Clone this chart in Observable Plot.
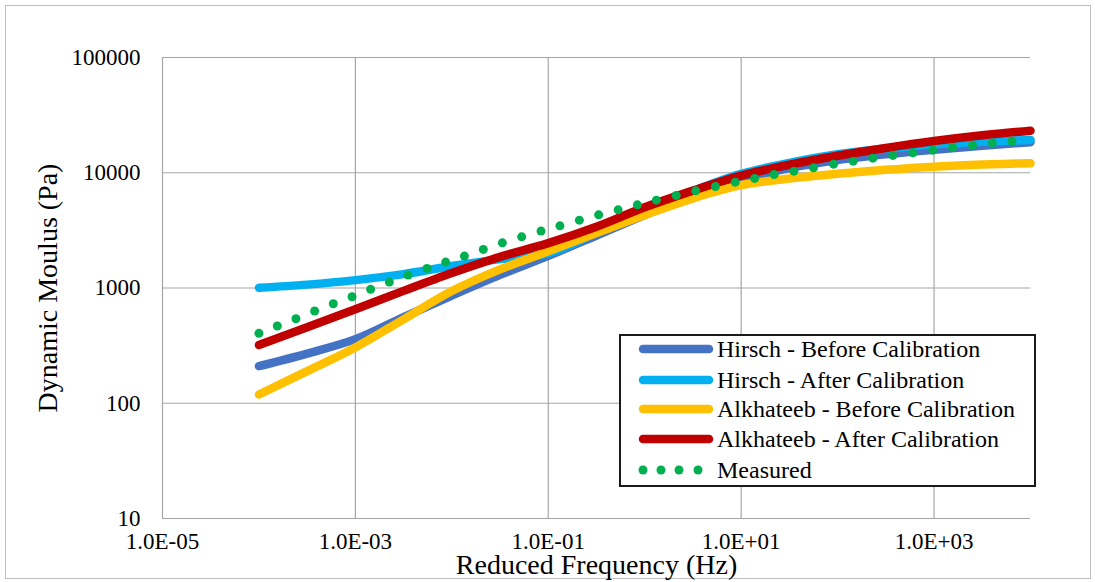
<!DOCTYPE html>
<html><head><meta charset="utf-8">
<script src="https://cdn.jsdelivr.net/npm/d3@7"></script>
<script src="https://cdn.jsdelivr.net/npm/@observablehq/plot@0.6"></script>
<style>
html,body{margin:0;padding:0;background:#fff;}
#wrap{position:relative;width:1095px;height:582px;font-family:"Liberation Serif","Times New Roman",serif;}
#frame{position:absolute;left:5px;top:5px;width:1084px;height:572px;border:1px solid #bfbfbf;pointer-events:none;}
#legend{position:absolute;left:619px;top:334px;width:413px;height:149px;border:2px solid #1a1a1a;background:#fff;}
.row{position:absolute;left:0;height:30px;display:flex;align-items:center;font-size:24px;color:#000;white-space:nowrap;font-family:"Liberation Serif","Times New Roman",serif;}
.row svg{display:block;}
</style></head><body><div id="wrap"><div id="frame"></div></div>
<script>
// ---- data ----
const seriesNames = ["Hirsch - Before Calibration","Hirsch - After Calibration","Alkhateeb - Before Calibration","Alkhateeb - After Calibration","Measured"];
const seriesColors = ["#4472C4","#00B0F0","#FFC000","#C00000","#00B050"];

const lineFreq = [1e-4, 3.16e-4, 1e-3, 3.16e-3, 1e-2, 3.16e-2, 1e-1, 0.316, 1, 3.16, 10, 31.6, 100, 316, 1000, 3162, 10000];
const hirschBefore = [210, 270, 360, 560, 860, 1300, 1900, 2850, 4300, 6300, 8710, 10960, 12880, 14450, 15850, 17180, 18400];
const hirschAfter = [1004, 1070, 1170, 1320, 1550, 1780, 2000, 3020, 4570, 6920, 9770, 12160, 14450, 16220, 17580, 18540, 19280];
const alkBefore = [119, 190, 305, 535, 940, 1450, 2080, 3000, 4300, 6000, 7800, 8900, 9800, 10600, 11300, 11800, 12100];
const alkAfter = [320, 457, 653, 944, 1349, 1862, 2450, 3400, 5012, 6998, 9441, 11749, 14060, 16406, 18836, 21135, 23174];

const measFreq = [1.0e-4, 1.55e-4, 2.42e-4, 3.78e-4, 5.90e-4, 9.23e-4, 1.44e-3, 2.25e-3, 3.52e-3, 5.53e-3,
  8.63e-3, 1.35e-2, 2.12e-2, 3.34e-2, 5.30e-2, 8.41e-2, 0.132, 0.210, 0.333, 0.530,
  0.839, 1.32, 2.12, 3.38, 5.41, 8.67, 13.8, 22.0, 35.2, 56.2,
  90.8, 145, 232, 374, 603, 973, 1556, 2506, 4018, 6412];
const measured = [404, 468, 541, 631, 730, 839, 973, 1125, 1294, 1479,
  1678, 1892, 2163, 2466, 2780, 3118, 3462, 3880, 4315, 4767,
  5270, 5783, 6353, 6966, 7603, 8285, 8925, 9664, 10319, 11031,
  11880, 12613, 13393, 14133, 14893, 15710, 16570, 17340, 18160, 18780];

const xTicks = [1e-5, 1e-3, 1e-1, 1e1, 1e3];
const xTickLabels = ["1.0E-05","1.0E-03","1.0E-01","1.0E+01","1.0E+03"];
const yTicks = [10, 100, 1000, 10000, 100000];
const yTickLabels = ["10","100","1000","10000","100000"];
const xTitle = "Reduced Frequency (Hz)";
const yTitle = "Dynamic Moulus (Pa)";

// ---- build rows ----
const lineSeries = [hirschBefore, hirschAfter, alkBefore, alkAfter];
const lineData = lineSeries.map((vals, k) => lineFreq.map((f, i) => ({f, v: vals[i], s: seriesNames[k]})));
const measData = measFreq.map((f, i) => ({f, v: measured[i]}));

const gridColor = "#a6a6a6";
const chart = Plot.plot({
  width: 1095, height: 582,
  marginLeft: 162, marginRight: 65, marginTop: 57, marginBottom: 64,
  style: {fontFamily: "'Liberation Serif','Times New Roman',serif", fontSize: "23px", background: "transparent", overflow: "visible", color: "#000"},
  x: {type: "log", domain: [1e-5, 1e4]},
  y: {type: "log", domain: [10, 1e5]},
  marks: [
    Plot.gridX(xTicks, {stroke: gridColor, strokeOpacity: 1, strokeWidth: 1.2}),
    Plot.gridY(yTicks, {stroke: gridColor, strokeOpacity: 1, strokeWidth: 1.2}),
    ...lineData.map((d, k) => Plot.line(d, {x: "f", y: "v", stroke: seriesColors[k], strokeWidth: 8.5, curve: "catmull-rom", strokeLinecap: "round", strokeLinejoin: "round"})),
    Plot.dot(measData, {x: "f", y: "v", r: 4.5, fill: seriesColors[4], stroke: "none"}),
    Plot.axisX(xTicks, {tickSize: 0, tickPadding: 14, tickFormat: (d) => xTickLabels[xTicks.indexOf(d)], fontSize: 23, label: null}),
    Plot.axisY(yTicks, {tickSize: 0, tickPadding: 22, tickFormat: (d) => yTickLabels[yTicks.indexOf(d)], fontSize: 23, label: null}),
    Plot.text([xTitle], {text: d => d, frameAnchor: "bottom", dy: 55, fontSize: 28, textAnchor: "middle"}),
    Plot.text([yTitle], {text: d => d, frameAnchor: "left", dx: -114, rotate: -90, fontSize: 28, textAnchor: "middle"})
  ]
});
const wrap = document.getElementById("wrap");
chart.style.position = "absolute";
chart.style.left = "0px";
chart.style.top = "0px";
wrap.appendChild(chart);

// ---- legend ----
const legend = document.createElement("div");
legend.id = "legend";
const rowCenters = [13, 44, 73, 103, 134];
seriesNames.forEach((name, k) => {
  const row = document.createElement("div");
  row.className = "row";
  row.style.top = (rowCenters[k] - 15) + "px";
  const ns = "http://www.w3.org/2000/svg";
  const sw = document.createElementNS(ns, "svg");
  sw.setAttribute("width", 96); sw.setAttribute("height", 30);
  if (k < 4) {
    const l = document.createElementNS(ns, "line");
    l.setAttribute("x1", 22); l.setAttribute("x2", 88); l.setAttribute("y1", 15); l.setAttribute("y2", 15);
    l.setAttribute("stroke", seriesColors[k]); l.setAttribute("stroke-width", 8.5); l.setAttribute("stroke-linecap", "round");
    sw.appendChild(l);
  } else {
    [22, 40, 58, 77].forEach(cx => {
      const c = document.createElementNS(ns, "circle");
      c.setAttribute("cx", cx); c.setAttribute("cy", 15); c.setAttribute("r", 4.5); c.setAttribute("fill", seriesColors[k]);
      sw.appendChild(c);
    });
  }
  row.appendChild(sw);
  const t = document.createElement("span");
  t.textContent = name;
  row.appendChild(t);
  legend.appendChild(row);
});
wrap.appendChild(legend);
</script></body></html>
